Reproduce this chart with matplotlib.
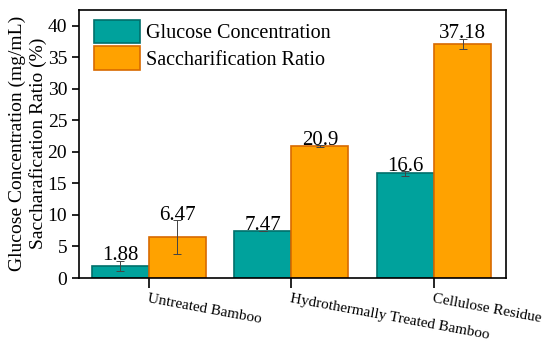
import matplotlib
matplotlib.use("Agg")
import matplotlib.pyplot as plt
import numpy as np

plt.rcParams['font.family'] = ['Liberation Serif', 'DejaVu Serif']

categories = ["Untreated Bamboo", "Hydrothermally Treated Bamboo", "Cellulose Residue"]
glucose = [1.88, 7.47, 16.6]
glucose_err = [0.8, 0.0, 0.35]
sacch = [6.47, 20.9, 37.18]
sacch_err = [2.7, 0.15, 0.8]
glucose_labels = ["1.88", "7.47", "16.6"]
sacch_labels = ["6.47", "20.9", "37.18"]

fig = plt.figure(figsize=(5.5, 3.43), dpi=100)
ax = fig.add_axes([0.1436, 0.1895, 0.7764, 0.7828])

x = np.arange(len(categories))
w = 0.4
teal = '#00A29C'
orange = '#FFA200'
ax.bar(x - w/2, glucose, w, color=teal, edgecolor='#00706B', linewidth=1.2,
       label='Glucose Concentration', zorder=2)
ax.bar(x + w/2, sacch, w, color=orange, edgecolor='#D86A00', linewidth=1.2,
       label='Saccharification Ratio', zorder=2)
ax.errorbar(x - w/2, glucose, yerr=glucose_err, fmt='none', ecolor='#444444',
            elinewidth=0.7, capsize=3, capthick=0.7, zorder=3)
ax.errorbar(x + w/2, sacch, yerr=sacch_err, fmt='none', ecolor='#444444',
            elinewidth=0.7, capsize=3, capthick=0.7, zorder=3)

for xi, v, e, t in zip(x - w/2, glucose, glucose_err, glucose_labels):
    ax.text(xi, v + e + 0.1, t, ha='center', va='baseline', fontsize=15)
for xi, v, e, t in zip(x + w/2, sacch, sacch_err, sacch_labels):
    ax.text(xi, v + e + 0.1, t, ha='center', va='baseline', fontsize=15)

ax.set_xlim(-0.49, 2.505)
ax.set_ylim(0, 42.6)
ax.set_yticks(np.arange(0, 41, 5))
ax.set_xticks(x)
ax.set_xticklabels(categories, rotation=-10.5, ha='left', va='top',
                   rotation_mode='anchor', fontsize=11)
ax.tick_params(axis='y', labelsize=14, direction='out', length=5, width=1.2, pad=3.5)
ax.tick_params(axis='x', direction='out', length=7, width=1.2, pad=3)
for s in ax.spines.values():
    s.set_linewidth(1.2)
ax.set_ylabel("Glucose Concentration (mg/mL)\nSaccharafication Ratio (%)",
              fontsize=14, linespacing=1.2)
ax.yaxis.set_label_coords(-0.075, 0.5)

ax.legend(loc='upper left', fontsize=14.5, frameon=False, handlelength=2.3,
          handleheight=1.45, borderaxespad=0.0, labelspacing=0.12,
          handletextpad=0.3, borderpad=0.3, bbox_to_anchor=(0.02, 0.985))

fig.savefig("out.png", dpi=100)
